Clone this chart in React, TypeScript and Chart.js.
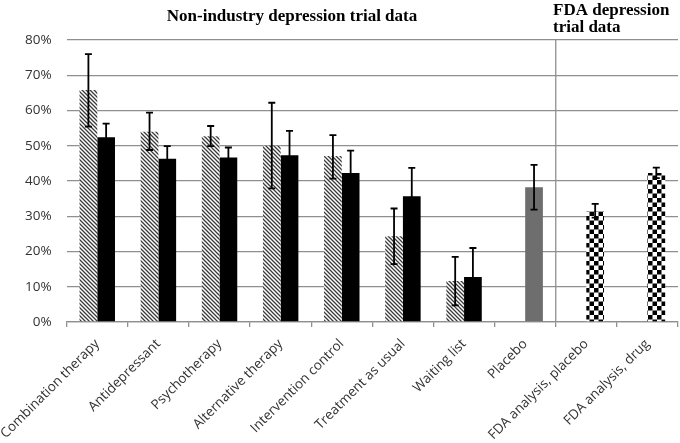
import React, { useEffect, useRef } from "react";
import { Chart, registerables } from "chart.js";

Chart.register(...registerables);

const categories = [
  "Combination therapy",
  "Antidepressant",
  "Psychotherapy",
  "Alternative therapy",
  "Intervention control",
  "Treatment as usual",
  "Waiting list",
  "Placebo",
  "FDA analysis, placebo",
  "FDA analysis, drug",
];

const hatchValues = [65.8, 54.0, 52.7, 50.0, 47.1, 24.3, 11.6, null, null, null];
const hatchHigh = [76.0, 59.4, 55.6, 62.2, 53.0, 32.2, 18.5, null, null, null];
const hatchLow = [55.4, 48.8, 49.9, 37.9, 40.7, 16.4, 4.7, null, null, null];

const solidValues = [52.4, 46.3, 46.7, 47.3, 42.3, 35.7, 12.8, 38.2, 31.4, 42.3];
const solidHigh = [56.3, 49.9, 49.5, 54.2, 48.6, 43.7, 21.0, 44.6, 33.5, 43.8];
const solidLow = [48.5, 42.7, 43.9, 40.4, 36.0, 27.7, 4.6, 31.9, 29.6, 40.8];

// style per bar of second series: solid, placebo grey, checkered
const solidKinds = ["solid", "solid", "solid", "solid", "solid", "solid", "solid", "grey", "check", "check"];

const yTicks = [0, 10, 20, 30, 40, 50, 60, 70, 80];

const leftTitle = "Non-industry depression trial data";
const rightTitle = ["FDA depression", "trial data"];

function makeHatch(ctx: CanvasRenderingContext2D) {
  const c = document.createElement("canvas");
  c.width = 4;
  c.height = 4;
  const g = c.getContext("2d")!;
  g.fillStyle = "#ffffff";
  g.fillRect(0, 0, 4, 4);
  g.strokeStyle = "#3a3a3a";
  g.lineWidth = 1.3;
  g.beginPath();
  g.moveTo(-1, -1);
  g.lineTo(5, 5);
  g.moveTo(-1, 3);
  g.lineTo(1, 5);
  g.moveTo(3, -1);
  g.lineTo(5, 1);
  g.stroke();
  return ctx.createPattern(c, "repeat")!;
}

function makeCheck(ctx: CanvasRenderingContext2D) {
  const c = document.createElement("canvas");
  c.width = 9;
  c.height = 9;
  const g = c.getContext("2d")!;
  g.fillStyle = "#ffffff";
  g.fillRect(0, 0, 9, 9);
  g.fillStyle = "#000000";
  g.fillRect(0, 0, 4.5, 4.5);
  g.fillRect(4.5, 4.5, 4.5, 4.5);
  return ctx.createPattern(c, "repeat")!;
}

export default function App() {
  const ref = useRef<HTMLCanvasElement>(null);

  useEffect(() => {
    const canvas = ref.current!;
    const ctx = canvas.getContext("2d")!;
    const hatch = makeHatch(ctx);
    const check = makeCheck(ctx);
    const solidColors = solidKinds.map((k) =>
      k === "solid" ? "#000000" : k === "grey" ? "#6e6e6e" : check
    );

    const errorBars = {
      id: "errorBars",
      afterDatasetsDraw(chart: any) {
        const c = chart.ctx;
        const y = chart.scales.y;
        const sets = [
          { hi: hatchHigh, lo: hatchLow },
          { hi: solidHigh, lo: solidLow },
        ];
        c.save();
        c.strokeStyle = "#000000";
        c.lineWidth = 1.8;
        sets.forEach((s, di) => {
          const meta = chart.getDatasetMeta(di);
          meta.data.forEach((bar: any, i: number) => {
            const hi = s.hi[i];
            const lo = s.lo[i];
            if (hi == null || lo == null) return;
            const x = bar.x;
            const yh = y.getPixelForValue(hi);
            const yl = y.getPixelForValue(lo);
            c.beginPath();
            c.moveTo(x, yh);
            c.lineTo(x, yl);
            c.moveTo(x - 3.5, yh);
            c.lineTo(x + 3.5, yh);
            c.moveTo(x - 3.5, yl);
            c.lineTo(x + 3.5, yl);
            c.stroke();
          });
        });
        c.restore();
      },
    };

    const decor = {
      id: "decor",
      beforeDatasetsDraw(chart: any) {
        const c = chart.ctx;
        const x = chart.scales.x;
        const area = chart.chartArea;
        const sx = (x.getPixelForValue(7) + x.getPixelForValue(8)) / 2;
        c.save();
        c.strokeStyle = "#8f8f8f";
        c.lineWidth = 1.3;
        c.beginPath();
        c.moveTo(sx, area.top);
        c.lineTo(sx, area.bottom);
        c.stroke();
        c.restore();
      },
      afterDraw(chart: any) {
        const c = chart.ctx;
        c.save();
        c.fillStyle = "#000000";
        c.font = "bold 17px 'Liberation Serif', 'Times New Roman', serif";
        c.textBaseline = "alphabetic";
        c.textAlign = "center";
        c.fillText(leftTitle, 292, 21);
        c.textAlign = "left";
        c.fillText(rightTitle[0], 553, 15);
        c.fillText(rightTitle[1], 553, 31.5);
        c.restore();
      },
    };

    const chart = new Chart(canvas, {
      type: "bar",
      data: {
        labels: categories,
        datasets: [
          {
            data: hatchValues as any,
            backgroundColor: hatch as any,
            borderWidth: 0,
            categoryPercentage: 0.58,
            barPercentage: 1,
          },
          {
            data: solidValues,
            backgroundColor: solidColors as any,
            borderWidth: 0,
            categoryPercentage: 0.58,
            barPercentage: 1,
          },
        ],
      },
      options: {
        animation: false,
        responsive: false,
        maintainAspectRatio: false,
        layout: { padding: { top: 40, right: 2, left: 0, bottom: 0 } },
        plugins: {
          legend: { display: false },
          tooltip: { enabled: false },
          title: { display: false },
        },
        scales: {
          x: {
            grid: {
              drawOnChartArea: false,
              drawTicks: true,
              tickLength: 5,
              color: "#8f8f8f",
              lineWidth: 1.3,
            },
            border: { display: true, color: "#8f8f8f", width: 1.3 },
            ticks: {
              autoSkip: false,
              maxRotation: 45,
              minRotation: 45,
              padding: 9,
              color: "#333333",
              font: { family: "'Open Sans', sans-serif", size: 13.5 },
            },
            afterFit(scale: any) {
              scale.height = 121;
              scale.paddingLeft = 0;
              scale.paddingRight = 0;
            },
          },
          y: {
            min: 0,
            max: 80,
            afterBuildTicks(scale: any) {
              scale.ticks = yTicks.map((v) => ({ value: v }));
            },
            grid: {
              drawTicks: false,
              color: "#8f8f8f",
              lineWidth: 1.3,
            },
            border: { display: false },
            ticks: {
              padding: 15,
              color: "#333333",
              font: { family: "'Open Sans', sans-serif", size: 13.5 },
              callback: (v: any) => v + "%",
            },
            afterFit(scale: any) {
              scale.width = 66.7;
            },
          },
        },
      },
      plugins: [errorBars, decor],
    });

    return () => chart.destroy();
  }, []);

  return (
    <div style={{ position: "absolute", left: 0, top: 0, width: 680, height: 443, background: "#ffffff" }}>
      <canvas ref={ref} width={680} height={443} />
    </div>
  );
}
